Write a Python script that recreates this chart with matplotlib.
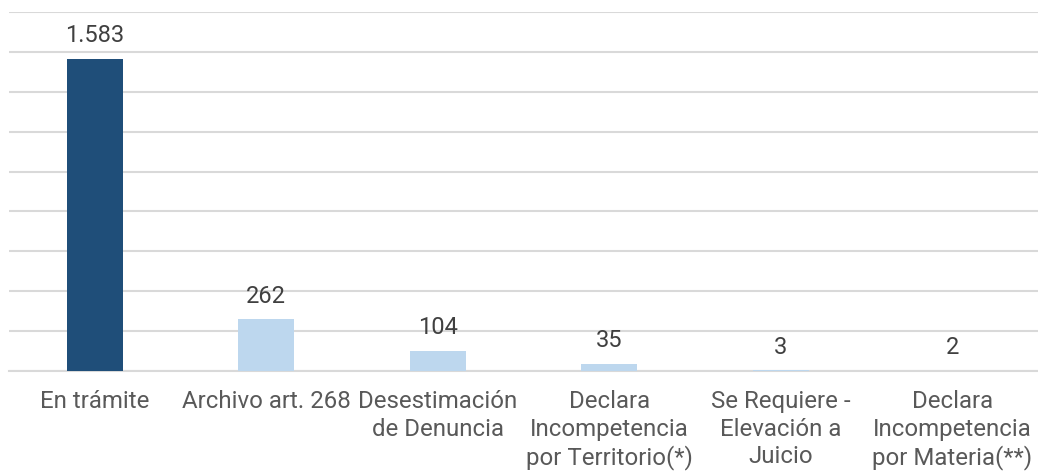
import matplotlib
matplotlib.use("Agg")
import matplotlib.pyplot as plt
from matplotlib.ticker import MultipleLocator

categories = ["En trámite", "Archivo art. 268", "Desestimación\nde Denuncia",
              "Declara\nIncompetencia\npor Territorio(*)", "Se Requiere -\nElevación a\nJuicio",
              "Declara\nIncompetencia\npor Materia(**)"]
values = [1583, 262, 104, 35, 3, 2]
value_labels = ["1.583", "262", "104", "35", "3", "2"]
colors = ["#1f4e79", "#bdd7ee", "#bdd7ee", "#bdd7ee", "#bdd7ee", "#bdd7ee"]

plt.rcParams['font.family'] = ['Roboto', 'DejaVu Sans']

fig = plt.figure(figsize=(10.38, 4.71), dpi=100)
ax = fig.add_axes([0.0087, 0.2123, 0.9913, 0.7622])
x = list(range(len(categories)))
ax.bar(x, values, width=0.325, color=colors, zorder=3)
ymax = 1821
ax.set_xlim(-0.5, len(categories) - 0.5)
ax.set_ylim(0, ymax)
ax.yaxis.set_major_locator(MultipleLocator(ymax / 9))
ax.grid(axis='y', color='#d9d9d9', linewidth=1.5, zorder=0)
ax.set_yticklabels([])
ax.tick_params(axis='y', length=0)
ax.tick_params(axis='x', length=0, pad=14)
ax.set_xticks(x)
ax.set_xticklabels(categories, fontsize=17.3, color='#595959', linespacing=1.24, va='top')
for s in ['top', 'right', 'left']:
    ax.spines[s].set_visible(False)
ax.spines['bottom'].set_color('#d9d9d9')
ax.spines['bottom'].set_linewidth(1.5)
for xi, v, lab in zip(x, values, value_labels):
    ax.annotate(lab, (xi, v), xytext=(0, 8.5), textcoords='offset points',
                ha='center', va='bottom', fontsize=17, color='#404040')
fig.savefig("out.png", dpi=100)
